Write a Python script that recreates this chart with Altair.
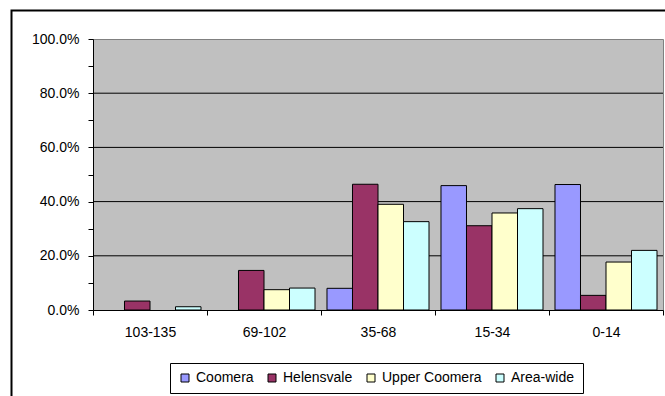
import altair as alt
import pandas as pd

# Share of households per size band, by area
categories = ["103-135", "69-102", "35-68", "15-34", "0-14"]
series = ["Coomera", "Helensvale", "Upper Coomera", "Area-wide"]
coomera = [0.0, 0.0, 0.080, 0.459, 0.463]
helensvale = [0.033, 0.146, 0.464, 0.311, 0.054]
upper_coomera = [0.0, 0.075, 0.390, 0.358, 0.177]
area_wide = [0.012, 0.081, 0.326, 0.374, 0.220]
colors = ["#9999FF", "#993366", "#FFFFCC", "#CCFFFF"]

y_ticks = [0.0, 0.1, 0.2, 0.3, 0.4, 0.5, 0.6, 0.7, 0.8, 0.9, 1.0]
grid_values = [0.2, 0.4, 0.6, 0.8]

FONT = "Liberation Sans"

rows = []
for name, vals in zip(series, [coomera, helensvale, upper_coomera, area_wide]):
    for cat, v in zip(categories, vals):
        rows.append({"category": cat, "series": name, "value": v})
df = pd.DataFrame(rows)

y_scale = alt.Scale(domain=[0, 1], nice=False)
y_axis = alt.Axis(
    title=None,
    values=y_ticks,
    format=".1%",
    labelExpr="round(datum.value * 10) % 2 == 0 ? format(datum.value, '.1%') : ''",
    grid=False,
    tickSize=5,
    tickColor="black",
    domainColor="black",
    labelFont=FONT,
    labelFontSize=14,
    labelColor="black",
    labelPadding=9,
    zindex=1,
)

grid = alt.Chart(pd.DataFrame({"value": grid_values})).mark_rule(
    color="black", strokeWidth=1
).encode(y=alt.Y("value:Q", scale=y_scale, axis=y_axis))

bars = alt.Chart(df).mark_bar(stroke="black", strokeWidth=1).encode(
    x=alt.X(
        "category:N",
        sort=categories,
        scale=alt.Scale(paddingInner=0, paddingOuter=0),
        axis=alt.Axis(
            title=None,
            labelAngle=0,
            tickBand="extent",
            tickSize=5,
            tickColor="black",
            domainColor="black",
            labelFont=FONT,
            labelFontSize=14,
            labelColor="black",
            labelPadding=10,
            zindex=1,
        ),
    ),
    xOffset=alt.XOffset(
        "series:N", sort=series, scale=alt.Scale(paddingOuter=0.235, paddingInner=0)
    ),
    y=alt.Y("value:Q", scale=y_scale, axis=y_axis),
    strokeOpacity=alt.condition("datum.value > 0", alt.value(1), alt.value(0)),
    color=alt.Color(
        "series:N",
        sort=series,
        scale=alt.Scale(domain=series, range=colors),
        legend=alt.Legend(
            title=None,
            orient="none",
            legendX=77,
            legendY=324,
            direction="horizontal",
            columns=4,
            symbolType="square",
            symbolSize=64,
            symbolStrokeColor="black",
            symbolStrokeWidth=1,
            labelFont=FONT,
            labelFontSize=14,
            labelColor="black",
            labelOffset=4,
            columnPadding=11,
            strokeColor="black",
            padding=8,
        ),
    ),
)

# Outer frame around the whole chart
frame = alt.Chart(alt.Data(values=[{}])).mark_rect(
    fillOpacity=0, stroke="black", strokeWidth=2
).encode(
    x=alt.value(-81.5), x2=alt.value(620), y=alt.value(-28.5), y2=alt.value(400)
)

chart = (
    alt.layer(grid, bars, frame)
    .properties(
        width=570,
        height=271,
        autosize=alt.AutoSizeParams(type="none"),
        padding={"left": 93, "top": 39, "right": 2, "bottom": 86},
        background="white",
    )
    .configure_view(fill="#C0C0C0", stroke="#808080", strokeWidth=1)
)

chart.save("out.html", embed_options={"renderer": "svg", "actions": False})
